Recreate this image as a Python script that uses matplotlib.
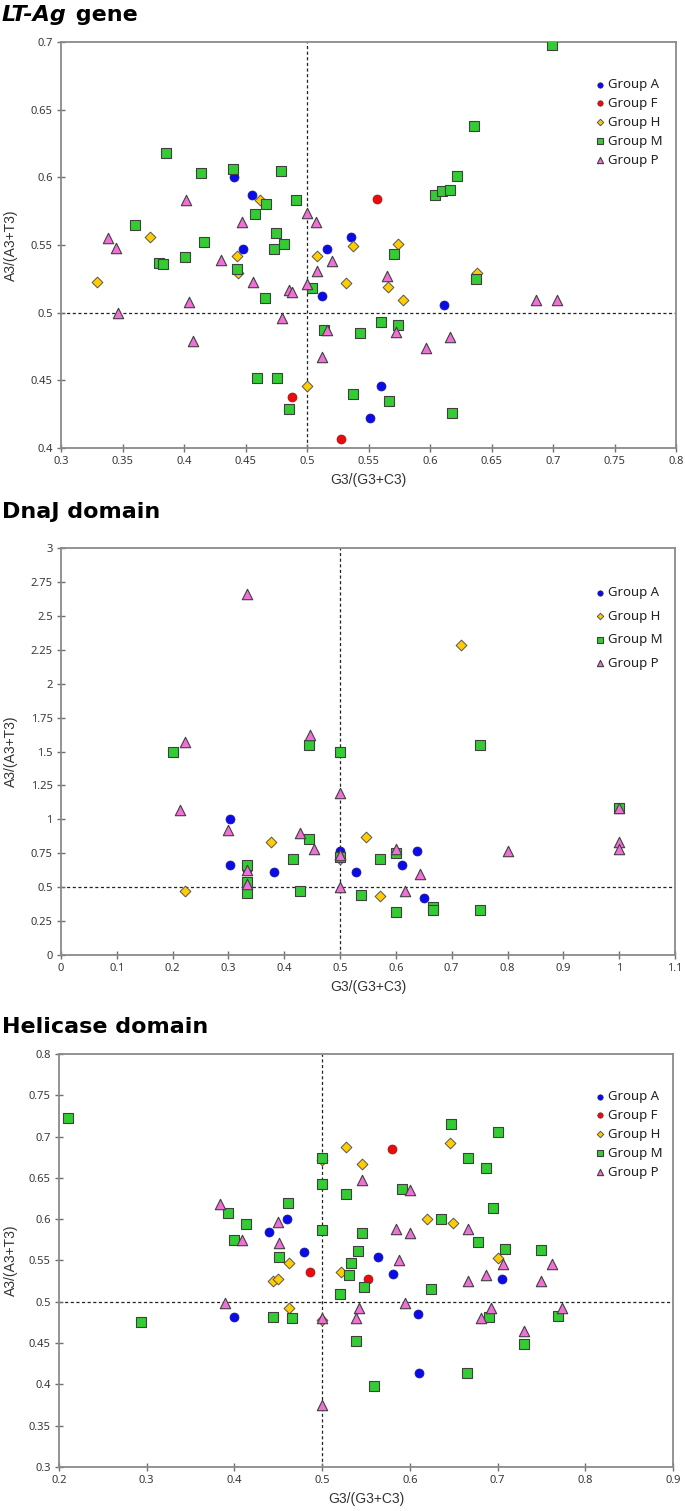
import matplotlib
matplotlib.use("Agg")
import matplotlib.pyplot as plt
from matplotlib.ticker import MultipleLocator, FuncFormatter

# ---------------- Data: LT-Ag gene ----------------
lt_A_x = [0.441, 0.455, 0.448, 0.516, 0.536, 0.512, 0.611, 0.560, 0.551]
lt_A_y = [0.600, 0.587, 0.547, 0.547, 0.556, 0.512, 0.506, 0.446, 0.422]
lt_F_x = [0.557, 0.488, 0.528]
lt_F_y = [0.584, 0.438, 0.407]
lt_H_x = [0.462, 0.372, 0.508, 0.537, 0.443, 0.444, 0.329, 0.532, 0.500, 0.574, 0.566, 0.638, 0.578]
lt_H_y = [0.583, 0.556, 0.542, 0.549, 0.542, 0.529, 0.523, 0.522, 0.446, 0.551, 0.519, 0.529, 0.509]
lt_M_x = [0.385, 0.414, 0.440, 0.479, 0.467, 0.491, 0.458, 0.360, 0.475, 0.416, 0.473, 0.481,
          0.401, 0.380, 0.383, 0.443, 0.504, 0.466, 0.514, 0.543, 0.459, 0.476, 0.537, 0.485,
          0.699, 0.636, 0.622, 0.604, 0.610, 0.616, 0.571, 0.637, 0.560, 0.574, 0.567, 0.618]
lt_M_y = [0.618, 0.603, 0.606, 0.605, 0.580, 0.583, 0.573, 0.565, 0.559, 0.552, 0.547, 0.551,
          0.541, 0.537, 0.536, 0.532, 0.518, 0.511, 0.487, 0.485, 0.452, 0.452, 0.440, 0.429,
          0.698, 0.638, 0.601, 0.587, 0.590, 0.591, 0.543, 0.525, 0.493, 0.491, 0.435, 0.426]
lt_P_x = [0.402, 0.500, 0.507, 0.447, 0.338, 0.345, 0.520, 0.430, 0.508, 0.456, 0.500, 0.485,
          0.488, 0.404, 0.346, 0.480, 0.516, 0.407, 0.512, 0.565, 0.686, 0.703, 0.572, 0.616, 0.597]
lt_P_y = [0.583, 0.574, 0.567, 0.567, 0.555, 0.548, 0.538, 0.539, 0.531, 0.523, 0.521, 0.517,
          0.515, 0.508, 0.500, 0.496, 0.487, 0.479, 0.467, 0.527, 0.509, 0.509, 0.486, 0.482, 0.474]

# ---------------- Data: DnaJ domain ----------------
dj_A_x = [0.303, 0.303, 0.333, 0.381, 0.500, 0.529, 0.611, 0.637, 0.651]
dj_A_y = [1.000, 0.667, 0.625, 0.613, 0.768, 0.613, 0.667, 0.768, 0.420]
dj_H_x = [0.716, 0.376, 0.500, 0.223, 0.546, 0.572]
dj_H_y = [2.285, 0.830, 0.705, 0.469, 0.871, 0.437]
dj_M_x = [0.200, 0.445, 0.500, 0.445, 0.416, 0.500, 0.333, 0.333, 0.333, 0.428, 0.538,
          0.751, 1.000, 0.600, 0.571, 0.600, 0.667, 0.667, 0.750]
dj_M_y = [1.500, 1.546, 1.500, 0.857, 0.709, 0.720, 0.667, 0.540, 0.459, 0.469, 0.440,
          1.546, 1.080, 0.750, 0.709, 0.314, 0.357, 0.333, 0.333]
dj_P_x = [0.334, 0.223, 0.446, 0.500, 0.214, 0.300, 0.429, 0.454, 0.500, 0.333, 0.333,
          0.500, 1.000, 1.000, 1.000, 0.600, 0.800, 0.643, 0.617]
dj_P_y = [2.660, 1.571, 1.625, 1.195, 1.066, 0.923, 0.900, 0.783, 0.740, 0.625, 0.520,
          0.500, 1.080, 0.830, 0.780, 0.780, 0.766, 0.599, 0.469]

# ---------------- Data: Helicase domain ----------------
he_A_x = [0.460, 0.439, 0.479, 0.564, 0.581, 0.705, 0.400, 0.609, 0.610]
he_A_y = [0.600, 0.584, 0.560, 0.554, 0.534, 0.527, 0.482, 0.485, 0.414]
he_F_x = [0.580, 0.486, 0.552]
he_F_y = [0.685, 0.536, 0.527]
he_H_x = [0.527, 0.500, 0.545, 0.646, 0.462, 0.522, 0.444, 0.450, 0.462, 0.500, 0.619, 0.649, 0.700]
he_H_y = [0.687, 0.672, 0.667, 0.692, 0.547, 0.536, 0.525, 0.528, 0.492, 0.478, 0.600, 0.596, 0.553]
he_M_x = [0.210, 0.500, 0.500, 0.527, 0.461, 0.393, 0.413, 0.500, 0.545, 0.400, 0.541, 0.451,
          0.533, 0.531, 0.548, 0.520, 0.294, 0.444, 0.466, 0.539, 0.647, 0.700, 0.666, 0.687,
          0.591, 0.695, 0.636, 0.678, 0.708, 0.750, 0.624, 0.690, 0.769, 0.730, 0.665, 0.559]
he_M_y = [0.723, 0.674, 0.643, 0.631, 0.620, 0.608, 0.594, 0.587, 0.583, 0.575, 0.562, 0.554,
          0.547, 0.533, 0.518, 0.510, 0.476, 0.482, 0.480, 0.453, 0.715, 0.706, 0.674, 0.662,
          0.637, 0.614, 0.600, 0.572, 0.564, 0.563, 0.516, 0.481, 0.483, 0.449, 0.414, 0.398]
he_P_x = [0.546, 0.384, 0.450, 0.409, 0.451, 0.389, 0.500, 0.542, 0.539, 0.500, 0.600, 0.584,
          0.600, 0.666, 0.588, 0.706, 0.762, 0.687, 0.666, 0.750, 0.594, 0.693, 0.773, 0.681, 0.730]
he_P_y = [0.647, 0.619, 0.597, 0.575, 0.571, 0.499, 0.480, 0.493, 0.480, 0.375, 0.635, 0.588,
          0.583, 0.588, 0.550, 0.546, 0.546, 0.533, 0.525, 0.525, 0.499, 0.492, 0.492, 0.480, 0.465]

# ---------------- Styles ----------------
STYLE = {
    "Group A": dict(marker="o", s=42, c="#0b0bea", edgecolors="#1a1a8a", linewidths=0.5),
    "Group F": dict(marker="o", s=42, c="#ee0a0a", edgecolors="#8a1a1a", linewidths=0.5),
    "Group H": dict(marker="D", s=30, c="#ffcc00", edgecolors="#555555", linewidths=0.7),
    "Group M": dict(marker="s", s=46, c="#33cc33", edgecolors="#404040", linewidths=0.8),
    "Group P": dict(marker="^", s=56, c="#f070d8", edgecolors="#404040", linewidths=0.8),
}

W, H = 685, 1511
fig = plt.figure(figsize=(W / 100, H / 100), dpi=100)

TICK_FONT = "Noto Sans"
tick_color = "#383838"


def fmt(v, pos):
    return "%g" % round(v, 4)


def make_panel(px_left, px_right, px_top, px_bottom, xlim, ylim, xstep, ystep,
               data, leg_top_px, leg_spacing):
    ax = fig.add_axes([px_left / W, 1 - px_bottom / H,
                       (px_right - px_left) / W, (px_bottom - px_top) / H])
    ax.axvline(0.5, color="#222222", lw=0.9, ls=(0, (2.5, 2)), zorder=1)
    ax.axhline(0.5, color="#222222", lw=0.9, ls=(0, (2.5, 2)), zorder=1)
    for i, (name, xs, ys) in enumerate(data):
        ax.scatter(xs, ys, label=name, zorder=3 + i, **STYLE[name])
    ax.set_xlim(*xlim)
    ax.set_ylim(*ylim)
    ax.xaxis.set_major_locator(MultipleLocator(xstep))
    ax.yaxis.set_major_locator(MultipleLocator(ystep))
    ax.xaxis.set_major_formatter(FuncFormatter(fmt))
    ax.yaxis.set_major_formatter(FuncFormatter(fmt))
    ax.tick_params(direction="inout", length=6, width=1.0, color="#707070",
                   labelsize=8, labelcolor=tick_color, pad=3)
    for lab in ax.get_xticklabels() + ax.get_yticklabels():
        lab.set_family(TICK_FONT)
    for side in ["left", "bottom", "top", "right"]:
        ax.spines[side].set_color("#8a8a8a")
        ax.spines[side].set_linewidth(1.3)
    ax.set_xlabel("G3/(G3+C3)", family="Liberation Sans", fontsize=10,
                  color="#333333", labelpad=4)
    ax.set_ylabel("A3/(A3+T3)", family="Liberation Sans", fontsize=10, color="#333333")
    ax.yaxis.set_label_coords((18 - px_left) / (px_right - px_left), 0.5)
    axh = px_bottom - px_top
    axw = px_right - px_left
    leg = ax.legend(loc="upper left",
                    bbox_to_anchor=((595 - px_left) / axw, (px_bottom - leg_top_px) / axh),
                    frameon=False, handlelength=0.7, handletextpad=0.25,
                    borderpad=0, borderaxespad=0, labelspacing=leg_spacing,
                    markerscale=0.6, prop={"family": "Noto Sans", "size": 9.5})
    for t in leg.get_texts():
        t.set_color("#222222")
    return ax


def title(y_px, parts):
    x = 2 / W
    y = 1 - y_px / H
    renderer = fig.canvas.get_renderer()
    for txt, style in parts:
        t = fig.text(x, y, txt, fontsize=16, fontweight="bold", style=style,
                     family="DejaVu Sans", va="center", ha="left", color="black")
        bb = t.get_window_extent(renderer=renderer)
        x = (bb.x1 + 1) / W


make_panel(61, 676, 42, 448, (0.3, 0.8), (0.4, 0.7), 0.05, 0.05,
           [("Group A", lt_A_x, lt_A_y), ("Group F", lt_F_x, lt_F_y),
            ("Group H", lt_H_x, lt_H_y), ("Group M", lt_M_x, lt_M_y),
            ("Group P", lt_P_x, lt_P_y)], 78, 0.45)
make_panel(61, 675, 548, 955, (0, 1.1), (0, 3), 0.1, 0.25,
           [("Group A", dj_A_x, dj_A_y), ("Group H", dj_H_x, dj_H_y),
            ("Group M", dj_M_x, dj_M_y), ("Group P", dj_P_x, dj_P_y)], 586, 0.8)
make_panel(59, 673, 1054, 1467, (0.2, 0.9), (0.3, 0.8), 0.1, 0.05,
           [("Group A", he_A_x, he_A_y), ("Group F", he_F_x, he_F_y),
            ("Group H", he_H_x, he_H_y), ("Group M", he_M_x, he_M_y),
            ("Group P", he_P_x, he_P_y)], 1090, 0.45)

title(15, [("LT-Ag", "italic"), (" gene", "normal")])
title(512, [("DnaJ domain", "normal")])
title(1027, [("Helicase domain", "normal")])

fig.savefig("out.png", dpi=100)
